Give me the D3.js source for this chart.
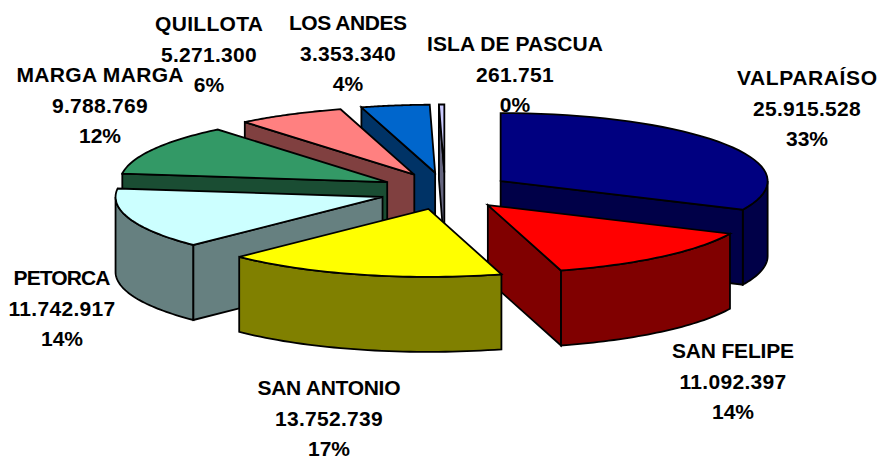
<!DOCTYPE html>
<html><head><meta charset="utf-8">
<script src="https://cdn.jsdelivr.net/npm/d3@7"></script>
<style>html,body{margin:0;padding:0;background:#fff}svg{display:block}</style>
</head><body><svg id="c" width="880" height="457"></svg>
<script>
const categories=["VALPARAÍSO","SAN FELIPE","SAN ANTONIO","PETORCA","MARGA MARGA","QUILLOTA","LOS ANDES","ISLA DE PASCUA"];
const values=[25915528,11092397,13752739,11742917,9788769,5271300,3353340,261751];
const percentLabels=["33%","14%","17%","14%","12%","6%","4%","0%"];
const topColors=["#000080","#ff0000","#ffff00","#ccffff","#339966","#ff8080","#0066cc","#ccccff"];
const wallColors=["#000048","#800000","#808000","#668080","#1a4d33","#804040","#003366","#666680"];
const labelCenters=[[807,78],[733,351],[329,388],[62,278],[100,75],[209,24],[348,23],[515,44]];
const nameWidths=[140,122,143,97,167,108,118,176];
const drawOrder=[7,6,5,4,3,0,1,2];

const cx=445,cy=191,rx=267,ry=68,depth=75,explodeX=66,explodeY=18.5,lineGap=30.5;
const svg=d3.select("#c");
const arcs=d3.pie().sort(null).value(d=>d)(values);
const fmt=d3.formatLocale({decimal:",",thousands:".",grouping:[3],currency:["",""]}).format(",d");
const line=d3.line();
const HALF=Math.PI/2;

function sliceShape(a){
  const mid=(a.startAngle+a.endAngle)/2;
  const ox=cx+explodeX*Math.sin(mid), oy=cy-explodeY*Math.cos(mid);
  const pt=t=>[ox+rx*Math.sin(t),oy-ry*Math.cos(t)];
  const rim=(t0,t1)=>d3.range(0,41).map(i=>pt(t0+(t1-t0)*i/40));
  return {apex:[ox,oy],pt,rim};
}
const down=p=>[p[0],p[1]+depth];
const stroke=(sel,fill)=>sel.attr("fill",fill).attr("stroke","#000").attr("stroke-width",1.8).attr("stroke-linejoin","miter");

drawOrder.forEach(i=>{
  const a=arcs[i],s=sliceShape(a),g=svg.append("g");
  const t0=a.startAngle,t1=a.endAngle;
  // outer wall: visible where the rim faces the viewer (90 to 270 degrees)
  const w0=Math.max(t0,HALF),w1=Math.min(t1,3*HALF);
  if(w1>w0){
    const r=s.rim(w0,w1);
    stroke(g.append("path").attr("d",line(r.concat(r.map(down).reverse()))+"Z"),wallColors[i]);
  }
  // radial wall: end edge on the right half, start edge on the left half
  const edge=t1<=Math.PI?t1:(t0>=5*Math.PI/4-0.02?t0:null);
  if(edge!==null){
    const p=s.pt(edge);
    stroke(g.append("path").attr("d",line([s.apex,p,down(p),down(s.apex)])+"Z"),wallColors[i]);
  }
  stroke(g.append("path").attr("d",line([s.apex].concat(s.rim(t0,t1)))+"Z"),topColors[i]);
});

categories.forEach((c,i)=>{
  const [x,y]=labelCenters[i];
  [c,fmt(values[i]),percentLabels[i]].forEach((t,k)=>{
    const el=svg.append("text").attr("x",x).attr("y",y+k*lineGap).attr("dy","0.35em")
      .attr("text-anchor","middle")
      .style("font-family","'Liberation Sans',Arial,sans-serif")
      .style("font-weight","bold").style("font-size","21px").attr("fill","#000").text(t);
    if(k===0) el.attr("textLength",nameWidths[i]).attr("lengthAdjust","spacing");
    if(k===1) el.style("letter-spacing","0.3px");
  });
});
</script></body></html>
